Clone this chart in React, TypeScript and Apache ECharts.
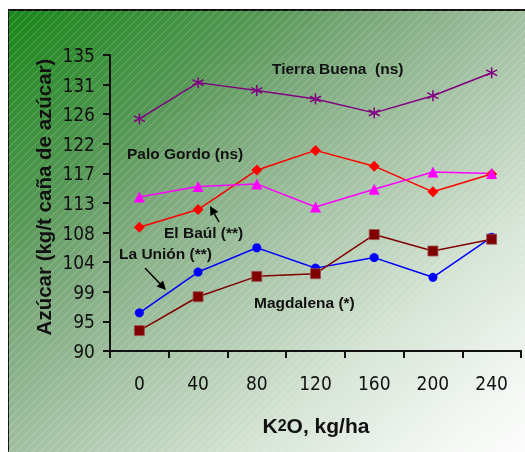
import React, { useEffect, useRef } from "react";
import * as echarts from "echarts";

const categories = ["0", "40", "80", "120", "160", "200", "240"];
const yTickLabels = ["90", "95", "99", "104", "108", "113", "117", "122", "126", "131", "135"];

const tierraBuena = [125.3, 130.8, 129.6, 128.3, 126.2, 128.8, 132.3];
const elBaul = [108.8, 111.5, 117.5, 120.5, 118.1, 114.2, 116.9];
const paloGordo = [113.4, 115.0, 115.4, 111.9, 114.6, 117.2, 117.0];
const laUnion = [95.8, 102.0, 105.7, 102.6, 104.2, 101.2, 107.3];
const magdalena = [93.1, 98.25, 101.35, 101.75, 107.7, 105.2, 107.0];

const NARROW = '"Liberation Sans Narrow", "DejaVu Sans Condensed", "Arial Narrow", sans-serif';
const SANS = '"Liberation Sans", Arial, sans-serif';

function arrow(x1: number, y1: number, x2: number, y2: number) {
  const dx = x2 - x1;
  const dy = y2 - y1;
  const len = Math.sqrt(dx * dx + dy * dy);
  const ux = dx / len;
  const uy = dy / len;
  const hl = 9;
  const hw = 4.5;
  const bx = x2 - ux * hl;
  const by = y2 - uy * hl;
  return [
    {
      type: "line",
      silent: true,
      z: 5,
      shape: { x1, y1, x2: bx, y2: by },
      style: { stroke: "#000", lineWidth: 1.5 },
    },
    {
      type: "polygon",
      silent: true,
      z: 5,
      shape: {
        points: [
          [x2, y2],
          [bx - uy * hw, by + ux * hw],
          [bx + uy * hw, by - ux * hw],
        ],
      },
      style: { fill: "#000" },
    },
  ];
}

export default function App() {
  const ref = useRef<HTMLDivElement>(null);
  useEffect(() => {
    if (!ref.current) return;
    document.documentElement.style.overflow = "hidden";
    document.body.style.overflow = "hidden";
    const chart = echarts.init(ref.current, undefined, { renderer: "svg" });

    const hatch: any[] = [];
    for (let x0 = -450; x0 <= 530; x0 += 8) {
      hatch.push({
        type: "line",
        silent: true,
        z: -9,
        shape: { x1: x0, y1: 446, x2: x0 + 444, y2: 2 },
        style: { stroke: "rgba(255,255,255,0.28)", lineWidth: 0.8 },
      });
    }

    const labelStyle = (text: string, x: number, y: number) => ({
      type: "text",
      silent: true,
      z: 5,
      x,
      y,
      style: {
        text,
        fill: "#111",
        font: `bold 15.5px ${SANS}`,
        textVerticalAlign: "middle",
        verticalAlign: "middle",
      },
    });

    const option: any = {
      animation: false,
      grid: { left: 102, right: 4, top: 47, bottom: 101 },
      xAxis: {
        type: "category",
        data: categories,
        boundaryGap: true,
        axisLine: { lineStyle: { color: "#111", width: 2 } },
        axisTick: { show: true, length: 7, lineStyle: { color: "#111", width: 2 } },
        axisLabel: { color: "#111", fontSize: 19, fontFamily: NARROW, margin: 22 },
        splitLine: { show: false },
      },
      yAxis: {
        type: "value",
        min: 90,
        max: 135,
        interval: 4.5,
        axisLine: { show: true, lineStyle: { color: "#111", width: 2 } },
        axisTick: { show: true, length: 7, lineStyle: { color: "#111", width: 2 } },
        axisLabel: {
          color: "#111",
          fontSize: 19,
          fontFamily: NARROW,
          margin: 15,
          formatter: (_v: number, i: number) => yTickLabels[i] ?? "",
        },
        splitLine: { show: false },
      },
      graphic: [
        {
          type: "rect",
          silent: true,
          z: -10,
          shape: { x: 0, y: 2, width: 540, height: 460 },
          style: {
            fill: new echarts.graphic.LinearGradient(0, 0, 1, 1, [
              { offset: 0, color: "rgb(25,135,25)" },
              { offset: 0.24, color: "rgb(85,152,85)" },
              { offset: 0.34, color: "rgb(122,168,122)" },
              { offset: 0.5, color: "rgb(165,195,165)" },
              { offset: 0.7, color: "rgb(214,228,214)" },
              { offset: 0.88, color: "rgb(244,247,244)" },
              { offset: 1, color: "#ffffff" },
            ]),
            stroke: "#111",
            lineWidth: 2,
          },
        },
        ...hatch,
        labelStyle("Tierra Buena  (ns)", 264, 60),
        labelStyle("Palo Gordo (ns)", 119, 145),
        labelStyle("El Baúl (**)", 156, 224),
        labelStyle("La Unión (**)", 111, 245),
        labelStyle("Magdalena (*)", 246, 294),
        ...arrow(211, 214, 202, 198),
        ...arrow(137, 260, 158, 282),
        {
          type: "text",
          silent: true,
          z: 5,
          x: 35,
          y: 189,
          rotation: Math.PI / 2,
          style: {
            text: "Azúcar (kg/t caña de azúcar)",
            fill: "#111",
            font: `bold 20.5px ${SANS}`,
            textAlign: "center",
            textVerticalAlign: "middle",
            align: "center",
            verticalAlign: "middle",
          },
        },
        {
          type: "text",
          silent: true,
          z: 5,
          x: 308,
          y: 417,
          style: {
            text: "K{s|2}O, kg/ha",
            rich: {
              s: { font: `bold 16px ${SANS}`, fill: "#111" },
            },
            fill: "#111",
            font: `bold 21px ${SANS}`,
            align: "center",
            verticalAlign: "middle",
          },
        },
      ],
      series: [
        {
          name: "Tierra Buena",
          type: "line",
          data: tierraBuena,
          symbol: "path://M0,-5L0,5M-4.5,-2.6L4.5,2.6M-4.5,2.6L4.5,-2.6",
          symbolSize: 11,
          lineStyle: { color: "#800080", width: 1.5 },
          itemStyle: { color: "#800080", borderColor: "#800080", borderWidth: 1.5 },
        },
        {
          name: "El Baúl",
          type: "line",
          data: elBaul,
          symbol: "diamond",
          symbolSize: 11,
          lineStyle: { color: "#ff0000", width: 1.5 },
          itemStyle: { color: "#ff0000" },
        },
        {
          name: "Palo Gordo",
          type: "line",
          data: paloGordo,
          symbol: "triangle",
          symbolSize: 11,
          lineStyle: { color: "#ff00ff", width: 1.5 },
          itemStyle: { color: "#ff00ff" },
        },
        {
          name: "La Unión",
          type: "line",
          data: laUnion,
          symbol: "circle",
          symbolSize: 9,
          lineStyle: { color: "#0000ff", width: 1.5 },
          itemStyle: { color: "#0000ff" },
        },
        {
          name: "Magdalena",
          type: "line",
          data: magdalena,
          symbol: "rect",
          symbolSize: 10,
          lineStyle: { color: "#800000", width: 1.5 },
          itemStyle: { color: "#800000", borderColor: "#a05050", borderWidth: 0.8 },
        },
      ],
    };
    chart.setOption(option);
    return () => chart.dispose();
  }, []);
  return (
    <div
      ref={ref}
      style={{ position: "fixed", left: 8, top: 8, width: 517, height: 444 }}
    />
  );
}
